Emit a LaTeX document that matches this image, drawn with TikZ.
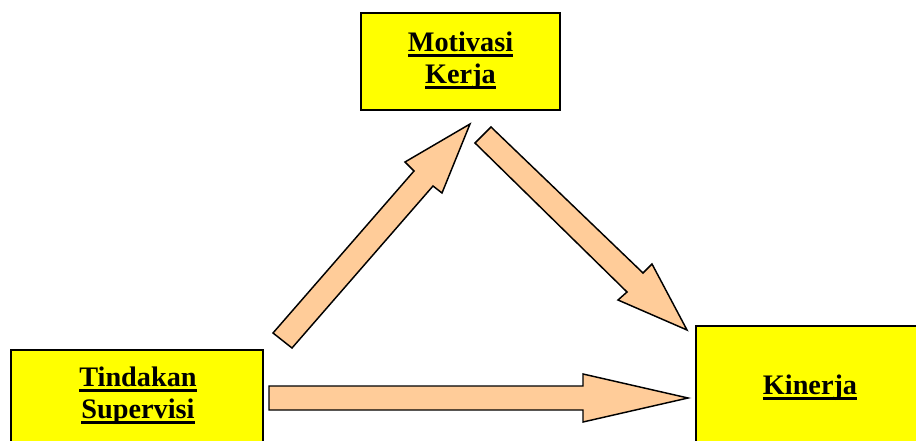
\documentclass[tikz,border=0pt]{standalone}
\usepackage{fontspec}
\setmainfont{Liberation Serif}
\newcommand\myul[1]{\setbox0\hbox{#1}\rlap{\rule[-4.1pt]{\wd0}{2pt}}\box0}
\definecolor{boxyellow}{HTML}{FFFF00}
\definecolor{arrowfill}{HTML}{FFCC99}
\tikzset{
  boxstyle/.style={draw=black, fill=boxyellow, line width=1.2pt},
  blockarrow/.style={draw=black, fill=arrowfill, line width=1.1pt, line join=miter},
  lbl/.style={inner sep=0pt, align=center, font=\fontsize{21.2}{24}\selectfont\bfseries, anchor=base}
}
\begin{document}
\begin{tikzpicture}[x=0.75pt,y=-0.75pt]
\useasboundingbox (0,0) rectangle (916,441);
\clip (0,0) rectangle (916,441);
% boxes
\draw[boxstyle] (361,13) rectangle (560,110);
\draw[boxstyle] (11,350) rectangle (263,470);
\draw[boxstyle] (696,326) rectangle (930,470);
% labels (base anchor = baseline of last line)
\node[lbl] (mk) at (460.5,83.3) {\myul{Motivasi}\\\myul{Kerja}};
\node[lbl] (ts) at (138,418.5) {\myul{Tindakan}\\\myul{Supervisi}};
\node[lbl] (kn) at (810,394.3) {\myul{Kinerja}};
% block arrow: Tindakan -> Motivasi
\coordinate (a1t1) at (273,333);
\coordinate (a1t2) at (292,348);
\coordinate (a1tip) at (470,124);
\draw[blockarrow] (a1t1) -- (414,171) -- (405,162) -- (a1tip) -- (442,193) -- (433,186) -- (a1t2) -- cycle;
% block arrow: Motivasi -> Kinerja
\coordinate (a2t1) at (491,127);
\coordinate (a2t2) at (475,143);
\coordinate (a2tip) at (687,330);
\draw[blockarrow] (a2t1) -- (643,273) -- (652,264) -- (a2tip) -- (618,300) -- (627,292) -- (a2t2) -- cycle;
% block arrow: Tindakan -> Kinerja
\coordinate (a3t1) at (269,386);
\coordinate (a3t2) at (269,410);
\coordinate (a3tip) at (688,398);
\draw[blockarrow] (a3t1) -- (583,386) -- (583,374) -- (a3tip) -- (583,422) -- (583,410) -- (a3t2) -- cycle;
\end{tikzpicture}
\end{document}
